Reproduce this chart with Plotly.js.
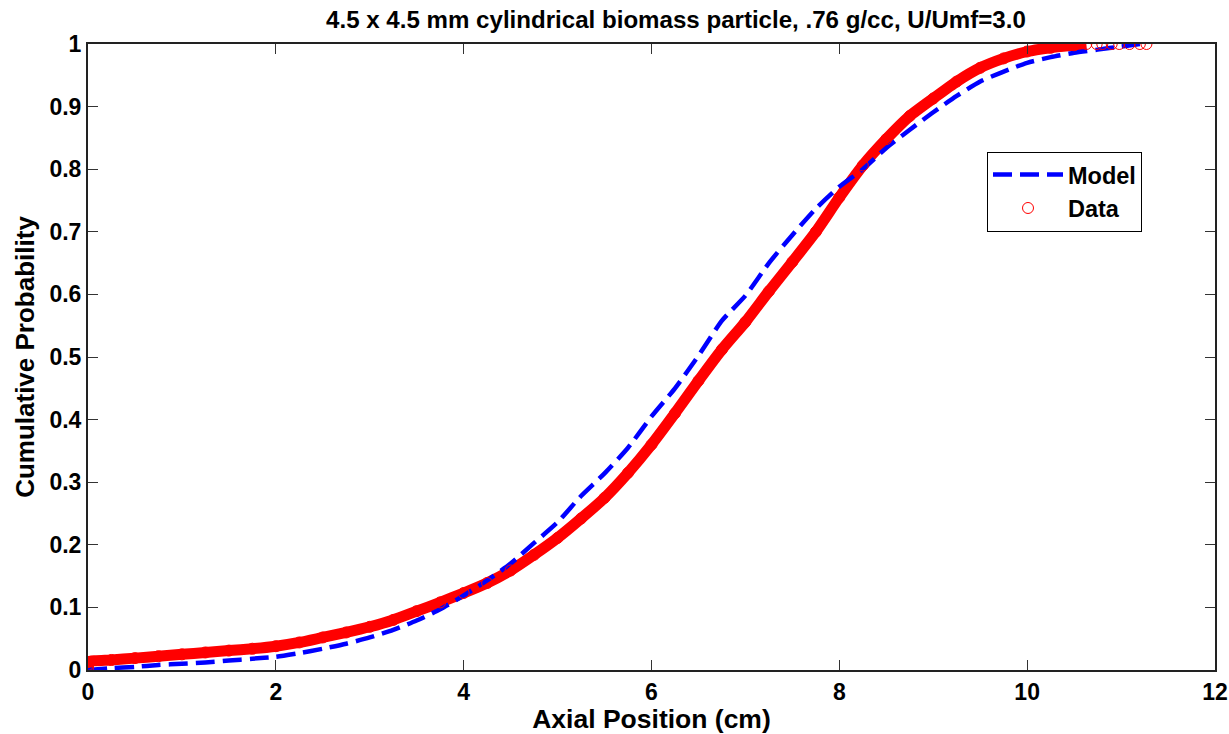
<!DOCTYPE html>
<html>
<head>
<meta charset="utf-8">
<script src="https://cdn.plot.ly/plotly-3.0.1.min.js"></script>
<style>html,body{margin:0;padding:0;background:#fff;}#chart{width:1229px;height:734px;}</style>
</head>
<body>
<div id="chart"></div>
<script>
// Model (dashed blue)
var modelX = [0, 0.25, 0.5, 0.75, 1.0, 1.25, 1.5, 1.75, 2.0, 2.25, 2.5, 2.75, 3.0, 3.25, 3.5, 3.75, 4.0, 4.25, 4.5, 4.75, 5.0, 5.25, 5.5, 5.75, 6.0, 6.25, 6.5, 6.75, 7.0, 7.25, 7.5, 7.75, 8.0, 8.25, 8.5, 8.75, 9.0, 9.25, 9.5, 9.75, 10.0, 10.25, 10.5, 10.75, 11.0, 11.2];
var modelY = [0.000, 0.003, 0.005, 0.008, 0.010, 0.012, 0.015, 0.018, 0.021, 0.027, 0.034, 0.042, 0.052, 0.064, 0.079, 0.097, 0.119, 0.143, 0.170, 0.203, 0.236, 0.278, 0.314, 0.355, 0.405, 0.450, 0.502, 0.558, 0.598, 0.650, 0.695, 0.737, 0.772, 0.800, 0.834, 0.863, 0.891, 0.917, 0.940, 0.956, 0.970, 0.979, 0.986, 0.991, 0.996, 1.000];

// Data (red circles)
var dataX = [0, 0, 0, 0.25, 0.5, 0.75, 1.0, 1.25, 1.5, 1.75, 2.0, 2.25, 2.5, 2.75, 3.0, 3.25, 3.5, 3.75, 4.0, 4.25, 4.5, 4.75, 5.0, 5.25, 5.5, 5.75, 6.0, 6.25, 6.5, 6.75, 7.0, 7.25, 7.5, 7.75, 8.0, 8.25, 8.5, 8.75, 9.0, 9.25, 9.5, 9.75, 10.0, 10.25, 10.5, 10.63, 10.74, 10.80, 10.90, 10.98, 11.09, 11.20, 11.27];
var dataY = [0.003, 0.008, 0.013, 0.016, 0.019, 0.022, 0.025, 0.028, 0.031, 0.034, 0.038, 0.044, 0.052, 0.060, 0.069, 0.080, 0.094, 0.108, 0.123, 0.139, 0.159, 0.184, 0.211, 0.242, 0.275, 0.315, 0.360, 0.410, 0.462, 0.512, 0.556, 0.605, 0.652, 0.700, 0.755, 0.806, 0.848, 0.885, 0.913, 0.940, 0.962, 0.977, 0.988, 0.994, 0.998, 1.0, 1.0, 1.0, 1.0, 1.0, 1.0, 1.0, 1.0];
var denseCount = 46; // solid band part of the data (before sparse tail)

var FONT = {family: 'Liberation Sans, Arial, sans-serif', weight: 'bold', color: '#000'};
function f(size){ return Object.assign({}, FONT, {size: size}); }

var traces = [
  {x: dataX.slice(0, denseCount), y: dataY.slice(0, denseCount), mode: 'lines', line: {color: '#ff0000', width: 11, shape: 'spline', smoothing: 0.6}, showlegend: false, hoverinfo: 'skip'},
  {x: modelX, y: modelY, mode: 'lines', name: 'Model', line: {color: '#0000ff', width: 4.5, dash: '19px,8px', shape: 'spline', smoothing: 0.6}},
  {x: dataX, y: dataY, mode: 'markers', name: 'Data', marker: {symbol: 'circle-open', size: 11, color: '#ff0000', line: {width: 1, color: '#ff0000'}}}
];

var layout = {
  width: 1229, height: 734,
  margin: {l: 88, r: 14, t: 44, b: 64},
  paper_bgcolor: '#fff', plot_bgcolor: '#fff',
  font: f(22),
  title: {text: '4.5 x 4.5 mm cylindrical biomass particle, .76 g/cc, U/Umf=3.0', font: f(24.1), x: 0.55, xanchor: 'center', y: 0.973, yref: 'container', yanchor: 'middle'},
  xaxis: {range: [0, 12], dtick: 2, tick0: 0, ticks: 'inside', ticklen: 10, tickwidth: 1, tickcolor: '#333', showline: true, linecolor: '#222', linewidth: 2, mirror: 'ticks', showgrid: false, zeroline: false, tickfont: f(23),
          title: {text: 'Axial Position (cm)', font: f(26.5), standoff: 6}},
  yaxis: {range: [0, 1], dtick: 0.1, tick0: 0, ticks: 'inside', ticklen: 10, tickwidth: 1, tickcolor: '#333', showline: true, linecolor: '#222', linewidth: 2, mirror: 'ticks', showgrid: false, zeroline: false, tickfont: f(23),
          title: {text: 'Cumulative Probability', font: f(26), standoff: 7}},
  legend: {x: 0.7977, y: 0.828, xanchor: 'left', yanchor: 'top', bgcolor: '#fff', bordercolor: '#000', borderwidth: 1, font: f(23.5), itemwidth: 70, tracegroupgap: 0},
  showlegend: true
};

Plotly.newPlot('chart', traces, layout, {displayModeBar: false, staticPlot: true});
</script>
</body>
</html>
